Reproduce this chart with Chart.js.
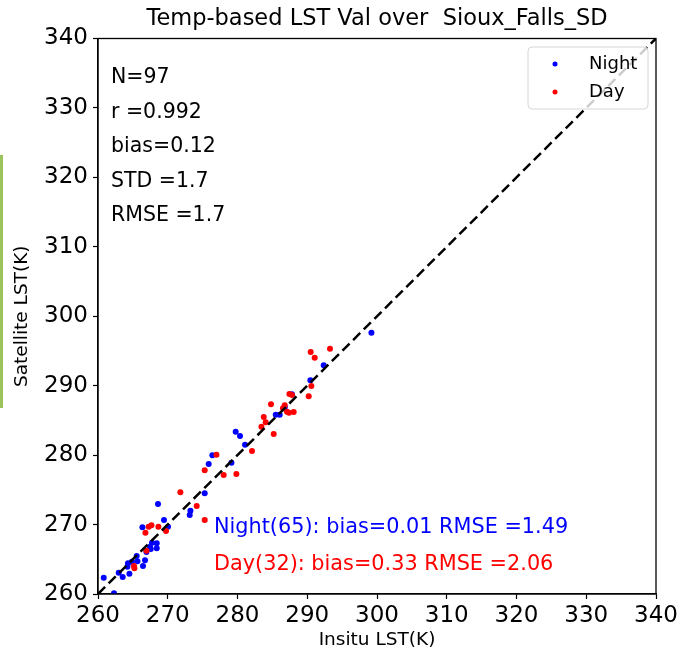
<!DOCTYPE html>
<html lang="en">
<head>
    <meta charset="UTF-8">
    <script src="https://cdn.jsdelivr.net/npm/chart.js@4"></script>
    <title>Temp-based LST Val</title>
    <style>
        body { margin: 0; background: #fff; }
    </style>
</head>
<body>
    <canvas id="grafico1" width="681" height="654"></canvas>
</body>
<script>
    // valori (K)
    var nightInsitu = [260.82, 262.29, 262.97, 263.54, 264.22, 264.30, 264.50, 264.87, 265.55, 265.65,
        266.45, 266.74, 266.94, 267.46, 267.74, 268.42, 268.42, 267.56, 266.37, 268.60,
        269.46, 270.04, 273.25, 273.15, 275.30, 279.13, 275.87, 276.40, 279.74, 280.36,
        281.08, 285.48, 286.05, 286.77, 299.20, 292.36, 290.45, 287.81, 286.62];
    var nightSat = [262.35, 260.10, 263.07, 262.45, 263.93, 264.42, 262.92, 264.65, 265.47, 264.71,
        264.03, 264.85, 266.05, 266.81, 267.39, 267.30, 266.58, 266.48, 269.61, 272.96,
        270.66, 269.69, 272.00, 271.38, 274.50, 278.91, 278.72, 279.97, 283.37, 282.75,
        281.50, 285.82, 285.82, 286.89, 297.63, 292.93, 290.77, 288.76, 286.75];

    var dayInsitu = [265.16, 265.22, 266.94, 266.80, 267.27, 267.66, 268.66, 269.75, 271.81, 274.15,
        275.30, 278.02, 279.84, 275.30, 276.98, 282.08, 284.80, 286.77, 286.52, 287.10,
        287.38, 288.06, 283.76, 284.04, 283.43, 285.19, 287.44, 287.81, 290.21, 290.59,
        290.49, 291.07, 293.26];
    var daySat = [264.03, 263.70, 266.24, 268.83, 269.69, 269.89, 269.69, 269.07, 274.65, 272.67,
        270.66, 277.14, 277.28, 277.81, 280.06, 280.59, 287.32, 287.17, 286.74, 286.25,
        286.11, 286.21, 285.49, 284.73, 284.09, 283.04, 288.80, 288.66, 288.47, 289.95,
        294.85, 294.03, 295.33];

    var axisTicks = [260, 270, 280, 290, 300, 310, 320, 330, 340];
    var oneToOne = [260, 340];

    var statsLines = ['N=97', 'r =0.992', 'bias=0.12', 'STD =1.7', 'RMSE =1.7'];
    var nightText = 'Night(65): bias=0.01 RMSE =1.49';
    var dayText = 'Day(32): bias=0.33 RMSE =2.06';
    var titolo = 'Temp-based LST Val over  Sioux_Falls_SD';

    var FONT = "'DejaVu Sans', sans-serif";

    function punti(xs, ys) {
        return xs.map(function(x, i) { return {x: x, y: ys[i]}; });
    }

    // cornice, titolo, testi e legenda stile matplotlib
    var decorazioni = {
        id: 'decorazioni',
        afterDatasetsDraw: function(chart) {
            var ctx = chart.ctx;
            var a = chart.chartArea;
            ctx.save();

            // barra verde a sinistra
            ctx.fillStyle = '#9dc45a';
            ctx.fillRect(0, 155, 3, 253);

            // cornice
            ctx.strokeStyle = '#000';
            ctx.lineWidth = 1.3;
            ctx.strokeRect(a.left, a.top, a.right - a.left, a.bottom - a.top);

            // titolo
            ctx.fillStyle = '#000';
            ctx.font = '22.5px ' + FONT;
            ctx.textAlign = 'center';
            ctx.textBaseline = 'middle';
            ctx.fillText(titolo, (a.left + a.right) / 2, 19);

            // statistiche
            ctx.textAlign = 'left';
            ctx.font = '20.5px ' + FONT;
            statsLines.forEach(function(t, i) {
                ctx.fillText(t, 111, 78 + i * 34.5);
            });

            ctx.font = '20.8px ' + FONT;
            ctx.fillStyle = '#0000ff';
            ctx.fillText(nightText, 214, 528);
            ctx.fillStyle = '#ff0000';
            ctx.fillText(dayText, 214, 565);

            // legenda
            var lx = 528, ly = 47, lw = 120, lh = 62, r = 4;
            ctx.beginPath();
            ctx.moveTo(lx + r, ly);
            ctx.arcTo(lx + lw, ly, lx + lw, ly + lh, r);
            ctx.arcTo(lx + lw, ly + lh, lx, ly + lh, r);
            ctx.arcTo(lx, ly + lh, lx, ly, r);
            ctx.arcTo(lx, ly, lx + lw, ly, r);
            ctx.closePath();
            ctx.fillStyle = 'rgba(255,255,255,0.8)';
            ctx.fill();
            ctx.strokeStyle = '#d6d6d6';
            ctx.lineWidth = 1;
            ctx.stroke();

            ctx.fillStyle = '#0000ff';
            ctx.beginPath(); ctx.arc(555, 64, 2.5, 0, Math.PI * 2); ctx.fill();
            ctx.fillStyle = '#ff0000';
            ctx.beginPath(); ctx.arc(555, 92, 2.5, 0, Math.PI * 2); ctx.fill();
            ctx.fillStyle = '#000';
            ctx.font = '18px ' + FONT;
            ctx.fillText('Night', 589, 64);
            ctx.fillText('Day', 589, 92);

            ctx.restore();
        }
    };

    var data = {
        datasets: [
        {
            type: 'line',
            label: '1:1',
            data: punti(oneToOne, oneToOne),
            borderColor: '#000',
            borderWidth: 2.5,
            borderDash: [10, 5],
            pointRadius: 0,
            fill: false,
            order: 0
        },
        {
            label: 'Day',
            data: punti(dayInsitu, daySat),
            backgroundColor: '#ff0000',
            borderWidth: 0,
            pointRadius: 3,
            order: 1
        },
        {
            label: 'Night',
            data: punti(nightInsitu, nightSat),
            backgroundColor: '#0000ff',
            borderWidth: 0,
            pointRadius: 3,
            order: 2
        }
        ]
    };

    function asse(titoloAsse, isX) {
        return {
            type: 'linear',
            min: axisTicks[0],
            max: axisTicks[axisTicks.length - 1],
            afterBuildTicks: function(scale) {
                scale.ticks = axisTicks.map(function(v) { return {value: v}; });
            },
            afterFit: function(scale) {
                if (isX) scale.height = 60; else scale.width = 98;
            },
            grid: {
                drawOnChartArea: false,
                drawTicks: true,
                tickLength: 5,
                tickWidth: 1.2,
                tickColor: '#000'
            },
            border: { display: true, color: '#000', width: 1.3 },
            ticks: {
                color: '#000',
                font: { family: FONT, size: 23 },
                padding: isX ? 3 : 5,
                maxRotation: 0
            },
            title: {
                display: true,
                text: titoloAsse,
                color: '#000',
                font: { family: FONT, size: 18.5 },
                padding: isX ? { bottom: 3, top: 0 } : { top: 11, bottom: 0 }
            }
        };
    }

    var options = {
        responsive: false,
        animation: false,
        layout: { padding: { top: 38.5, right: 25, left: 0, bottom: 0 } },
        plugins: {
            legend: { display: false },
            title: { display: false },
            tooltip: { enabled: false }
        },
        scales: {
            x: asse('Insitu LST(K)', true),
            y: asse('Satellite LST(K)', false)
        }
    };

    var myChart = new Chart('grafico1', {
        type: 'scatter',
        data: data,
        options: options,
        plugins: [decorazioni]
    });
</script>
</html>
